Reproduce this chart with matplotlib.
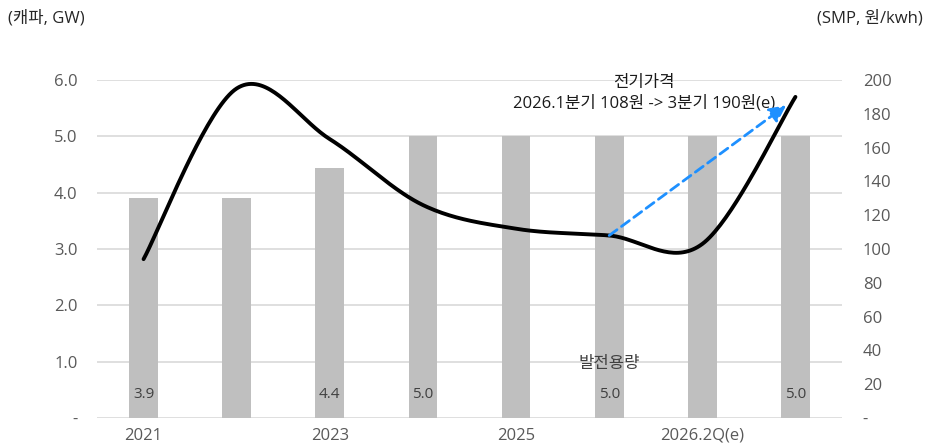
import numpy as np
import matplotlib
matplotlib.use("Agg")
import matplotlib.pyplot as plt

plt.rcParams['font.family'] = ['Open Sans', 'Noto Sans CJK KR', 'DejaVu Sans']

categories = ['2021', '2022', '2023', '2024', '2025', '2026.1Q', '2026.2Q(e)', '2026.3Q(e)']
capa_gw = [3.9, 3.9, 4.43, 5.0, 5.0, 5.0, 5.0, 5.0]
smp_won = [94, 195, 165, 126, 112, 108, 103, 190]
shown_labels = [0, 2, 3, 5, 7]          # bars that carry a value label
xtick_idx = [0, 2, 4, 6]
arrow_from = (5, 108)
arrow_to = (6.9, 185)

bar_color = '#bfbfbf'
grid_color = '#d9d9d9'
text_gray = '#595959'
fs = 12


def smooth_curve(xs, ys, n=40):
    # Bezier segments with control points at P +/- (P_next - P_prev)/6
    pts = np.column_stack([xs, ys]).astype(float)
    out = []
    for i in range(len(pts) - 1):
        p0 = pts[i - 1] if i > 0 else pts[i]
        p1 = pts[i]
        p2 = pts[i + 1]
        p3 = pts[i + 2] if i + 2 < len(pts) else pts[i + 1]
        c1 = p1 + (p2 - p0) / 6
        c2 = p2 - (p3 - p1) / 6
        t = np.linspace(0, 1, n)[:, None]
        seg = ((1 - t) ** 3) * p1 + 3 * ((1 - t) ** 2) * t * c1 + 3 * (1 - t) * t ** 2 * c2 + t ** 3 * p2
        out.append(seg if i == 0 else seg[1:])
    out = np.vstack(out)
    return out[:, 0], out[:, 1]


fig = plt.figure(figsize=(9.41, 4.47), dpi=100)
ax = fig.add_axes([97 / 941, (447 - 418) / 447, (842 - 97) / 941, (418 - 80) / 447])
ax2 = ax.twinx()

x = np.arange(len(categories))
ax.bar(x, capa_gw, width=0.31, color=bar_color, zorder=2)
for i in shown_labels:
    ax.text(x[i], 0.42, f'{capa_gw[i]:.1f}', ha='center', va='center',
            fontsize=fs - 1, color='#404040', zorder=3)

ax.set_xlim(-0.5, len(categories) - 0.5)
ax.set_ylim(0, 6)
ax.set_yticks(np.arange(0, 6.1, 1))
ax.set_yticklabels(['-'] + [f'{v:.1f}' for v in np.arange(1, 6.1, 1)])
ax.set_xticks(xtick_idx)
ax.set_xticklabels([categories[i] for i in xtick_idx])
ax.grid(axis='y', color=grid_color, linewidth=1.2, zorder=0)
ax.set_axisbelow(True)

ax2.set_ylim(0, 200)
ax2.set_yticks(np.arange(0, 201, 20))
ax2.set_yticklabels(['-'] + [str(v) for v in range(20, 201, 20)])

sx, sy = smooth_curve(x, smp_won)
ax2.plot(sx, sy, color='black', linewidth=2.8, solid_capstyle='round', zorder=5)

ax2.annotate('', xy=arrow_to, xytext=arrow_from,
             arrowprops=dict(arrowstyle='-|>,head_length=1.0,head_width=0.5',
                             color='#1e90ff', linestyle=(0, (3.5, 2)), linewidth=2.0,
                             shrinkA=0, shrinkB=0), zorder=6)

ax2.text(5.37, 198, '전기가격', ha='center', va='center', fontsize=fs, color='#1a1a1a')
ax2.text(5.37, 186, '2026.1분기 108원 -> 3분기 190원(e)', ha='center', va='center',
         fontsize=fs, color='#1a1a1a')
ax.text(5.0, 0.95, '발전용량', ha='center', va='center', fontsize=fs, color='#404040', zorder=4)

for a in (ax, ax2):
    for side in ('top', 'left', 'right', 'bottom'):
        a.spines[side].set_visible(False)
    a.tick_params(length=0, labelsize=fs, colors=text_gray)
ax.tick_params(axis='y', pad=14)
ax2.tick_params(axis='y', pad=15)
ax.tick_params(axis='x', pad=7)

fig.text(8 / 941, 1 - 18 / 447, '(캐파, GW)', ha='left', va='center', fontsize=fs, color='#262626')
fig.text(923 / 941, 1 - 18 / 447, '(SMP, 원/kwh)', ha='right', va='center', fontsize=fs, color='#262626')

fig.savefig('out.png', dpi=100)
